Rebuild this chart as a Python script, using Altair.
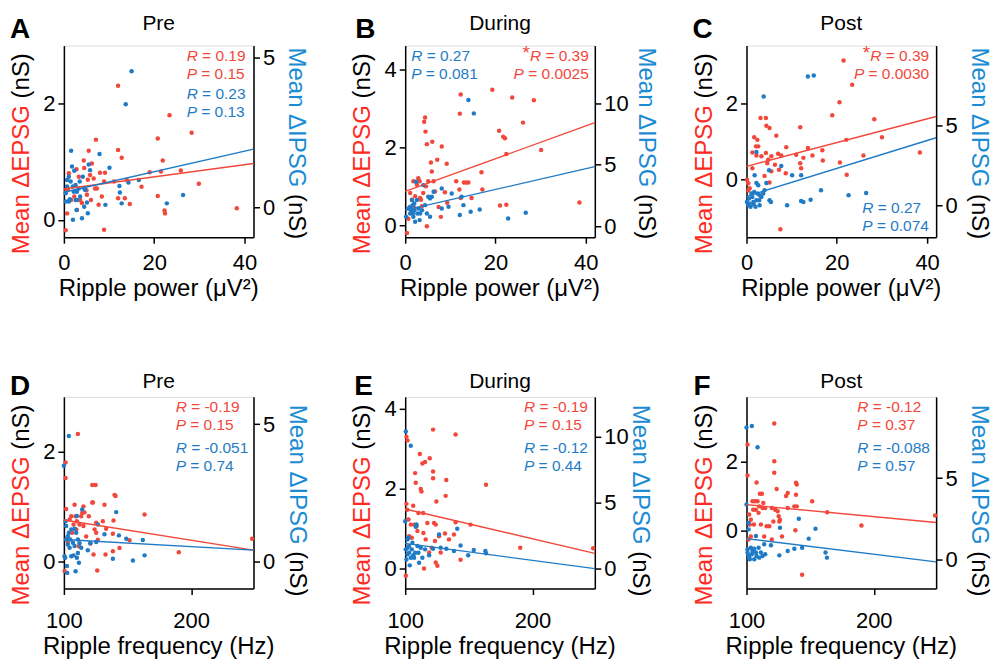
import altair as alt
import pandas as pd

FONT = "Liberation Sans"
RED = "#f2483c"
BLUE = "#1f7bc6"
RED_TITLE = "#ff2a22"
BLUE_TITLE = "#1b8bd3"
INK = "#000000"

LETTERS = ["A", "B", "C", "D", "E", "F"]
TITLES = ["Pre", "During", "Post", "Pre", "During", "Post"]
X_TITLES = ["Ripple power (μV²)"] * 3 + ["Ripple frequency (Hz)"] * 3
X_TICKS = [[0, 20, 40], [100, 200]]
X_DOMAINS = [[0, 42], [100, 249]]
FIT_X = [[0, 42], [100, 249]]

Y_LEFT_DOMAINS = [[-0.3, 3.0], [-0.3, 4.6], [-1.5, 3.5], [-0.5, 3.0], [-0.5, 4.3], [-1.7, 3.9]]
Y_RIGHT_DOMAINS = [[-1.0, 5.4], [-0.9, 14.7], [-2.0, 10.0], [-1.0, 6.0], [-1.5, 13.0], [-1.8, 10.0]]
Y_LEFT_TICKS = [[0, 2], [0, 2, 4], [0, 2], [0, 2], [0, 2, 4], [0, 2]]
Y_RIGHT_TICKS = [[0, 5], [0, 5, 10], [0, 5], [0, 5], [0, 5, 10], [0, 5]]

RED_FIT = [[0.53, 0.97], [0.87, 2.63], [0.35, 1.65], [0.75, 0.20], [1.49, 0.38], [0.75, 0.23]]
BLUE_FIT = [[0.50, 1.94], [1.30, 4.84], [0.56, 4.23], [0.79, 0.40], [1.91, 0.00], [1.27, -0.16]]

R_RED = ["0.19", "0.39", "0.39", "-0.19", "-0.19", "-0.12"]
P_RED = ["0.15", "0.0025", "0.0030", "0.15", "0.15", "0.37"]
R_BLUE = ["0.23", "0.27", "0.27", "-0.051", "-0.12", "-0.088"]
P_BLUE = ["0.13", "0.081", "0.074", "0.74", "0.44", "0.57"]
STAR_RED = [False, True, True, False, False, False]

# (x, mean dEPSG) red ; (x, mean dIPSG) blue
A_RED = [(0.4,-0.18),(0.7,0.11),(0.6,0.50),(1.6,0.34),(2.8,0.87),(3.3,0.74),(4.0,0.29),(4.4,1.02),(4.5,0.89),(5.0,0.51),
         (5.3,0.69),(5.5,1.19),(5.8,0.77),(6.2,0.97),(6.6,0.71),(7.1,1.38),(7.3,0.54),(8.0,0.81),(8.4,0.40),(8.9,0.66),
         (8.9,-0.17),(9.1,0.81),(7.7,0.26),(11.1,0.66),(12.0,2.31),(12.0,1.20),(12.8,1.07),(12.0,0.37),(13.5,0.37),(14.6,0.27),
         (17.2,0.57),(19.0,0.82),(20.8,1.40),(21.9,1.02),(21.5,0.83),(20.8,0.41),(22.3,0.16),(22.4,0.11),(23.4,1.80),(25.9,0.85),
         (28.3,1.50),(29.9,0.62),(38.3,0.20),(5.1,0.43),(6.0,0.34),(6.9,0.54),(0.9,0.53),(2.3,0.40),(3.6,0.34),(2.9,0.17),
         (13.9,0.69),(1.1,0.80)]
A_BLUE = [(0.4,0.19),(0.7,0.91),(1.1,1.02),(1.6,1.89),(1.5,0.86),(1.8,1.36),(2.0,0.69),(2.0,-0.42),(2.3,1.22),(2.6,0.74),
          (2.6,0.24),(2.8,-0.09),(2.9,0.24),(3.3,0.63),(3.6,0.36),(4.0,-0.37),(4.2,1.02),(4.5,0.02),(4.7,0.58),(5.1,0.16),
          (5.3,-0.20),(5.5,1.43),(5.8,1.24),(7.9,1.78),(9.2,0.08),(10.1,1.32),(12.3,0.71),(12.4,0.49),(12.8,0.13),(13.7,3.44),
          (14.3,0.83),(15.0,4.54),(16.6,0.91),(22.8,0.13),(26.4,0.41),(1.1,0.19),(0.7,0.69),(2.2,0.52),(1.3,0.27),(3.5,0.86),
          (0.4,0.47),(2.9,0.52),(4.5,0.63)]
B_RED = [(0.4,-0.19),(0.7,0.17),(1.1,0.83),(1.5,0.66),(1.8,1.13),(2.0,0.45),(2.2,0.75),(2.6,1.04),(2.9,1.21),(3.2,1.13),
         (3.5,0.66),(3.7,0.49),(4.0,0.83),(4.2,2.65),(4.4,2.76),(4.5,2.40),(4.8,2.08),(4.8,-0.02),(4.6,1.00),(5.1,1.13),
         (5.7,1.61),(5.9,1.38),(6.0,2.14),(6.3,1.13),(6.6,0.87),(7.1,1.68),(7.4,0.47),(7.9,0.22),(8.1,2.02),(8.8,0.85),
         (9.2,1.58),(9.3,0.58),(11.3,1.13),(12.1,2.86),(12.3,3.35),(12.0,0.92),(12.3,0.70),(13.0,1.10),(13.5,1.10),(14.0,1.10),
         (14.7,0.70),(16.9,1.36),(17.1,0.92),(19.3,3.47),(20.8,2.42),(21.0,0.51),(21.7,2.27),(22.1,2.23),(22.4,1.83),(22.4,0.53),
         (23.7,3.27),(26.1,2.63),(28.5,3.20),(30.1,1.93),(38.6,0.59),(3.3,0.70)]
B_BLUE = [(0.2,0.76),(0.7,1.44),(1.1,1.58),(1.5,1.17),(1.7,1.71),(2.0,1.30),(2.2,0.35),(2.4,3.61),(2.6,2.12),(2.7,1.03),
          (2.9,1.44),(3.2,0.49),(3.7,1.30),(4.0,3.34),(4.4,1.71),(4.8,1.03),(5.1,2.39),(5.5,2.26),(5.9,2.39),(6.3,2.80),
          (5.5,0.76),(8.1,3.07),(8.1,1.44),(10.3,2.66),(9.6,1.58),(12.1,0.90),(12.5,2.39),(12.9,1.71),(14.0,10.27),(15.2,9.18),
          (14.5,1.17),(16.5,1.36),(22.8,0.63),(26.7,1.09),(1.5,2.12),(1.1,1.03),(1.8,0.76),(1.3,1.30),(2.0,1.85),(3.3,1.03),
          (1.7,1.03)]
C_RED = [(0.1,0.00),(0.4,-0.09),(0.4,-0.28),(0.7,-0.22),(1.3,0.30),(1.3,0.71),(1.7,1.11),(2.1,0.87),(2.2,0.63),(2.4,1.04),
         (2.6,0.87),(3.1,1.61),(3.3,0.61),(4.0,0.10),(4.3,0.70),(4.3,1.61),(4.4,1.41),(4.6,0.43),(4.8,0.52),(5.1,1.35),
         (5.1,-0.07),(5.5,0.22),(5.5,0.61),(6.3,0.39),(6.6,1.15),(7.0,0.68),(7.2,0.26),(7.5,-1.29),(7.7,0.63),(8.7,0.17),
         (8.8,0.85),(11.0,0.65),(11.9,1.37),(11.9,0.43),(12.1,0.30),(12.6,0.57),(13.6,0.83),(14.6,0.63),(16.8,0.77),(16.9,0.50),
         (19.0,1.68),(20.6,2.02),(20.7,0.45),(21.5,3.11),(22.1,1.04),(22.2,0.13),(23.4,2.48),(25.9,0.63),(28.3,1.58),(30.0,1.11),
         (38.4,0.71)]
C_BLUE = [(0.1,0.21),(0.4,0.00),(0.6,0.42),(0.9,-0.10),(1.1,0.73),(1.3,0.52),(1.5,0.21),(1.7,0.83),(1.8,1.88),(2.0,-0.10),
          (2.2,1.40),(2.2,3.33),(2.4,0.73),(2.6,1.25),(2.8,0.31),(2.9,0.00),(3.3,0.52),(3.7,0.73),(3.8,6.81),(4.0,0.94),
          (4.4,1.40),(5.0,2.19),(5.1,0.31),(5.4,0.21),(7.7,2.46),(9.0,0.00),(10.1,1.88),(12.1,1.88),(12.1,0.27),(12.6,0.21),
          (13.6,8.06),(14.9,8.13),(14.2,0.35),(16.5,0.94),(22.6,0.63),(26.5,0.77),(1.6,0.06),(2.2,0.31),(0.7,0.10),(2.9,0.63)]
D_RED = [(100.5,-0.18),(101.3,1.80),(101.3,1.52),(101.8,0.95),(102.4,0.41),(104.5,0.76),(105.8,0.82),(106.5,0.52),(107.6,0.67),(108.4,1.03),
         (109.2,0.82),(110.2,0.73),(111.0,2.32),(111.8,0.27),(112.3,0.67),(113.6,0.82),(114.4,0.88),(115.4,1.00),(116.2,0.89),(117.5,0.45),
         (119.6,0.82),(120.9,0.32),(122.3,1.39),(124.9,1.39),(122.8,1.07),(123.3,0.12),(124.1,0.58),(125.4,0.52),(126.2,-0.17),(126.7,0.39),
         (130.6,0.73),(131.9,1.03),(132.7,0.12),(133.2,0.59),(138.5,0.18),(139.0,0.74),(139.8,1.21),(140.6,1.19),(138.5,0.50),(143.7,0.24),
         (151.6,0.38),(163.4,0.85),(190.3,0.16),(247.9,0.41),(122.3,1.07),(125.4,0.70),(115.4,0.64),(103.1,0.33),(109.7,0.58)]
D_BLUE = [(100.0,3.48),(100.5,0.18),(101.0,0.12),(101.3,1.46),(101.8,1.28),(101.8,0.79),(102.4,-0.18),(102.6,-0.43),(103.1,0.61),(103.9,1.04),
          (103.9,4.57),(104.5,0.49),(105.0,0.79),(105.8,0.18),(107.1,0.67),(107.6,0.21),(108.4,1.18),(109.2,-0.37),(109.7,1.04),(110.2,1.65),
          (110.2,0.12),(111.0,0.30),(111.8,-0.06),(112.3,0.65),(113.6,0.49),(114.4,1.89),(118.8,0.40),(120.7,0.65),(125.4,0.70),(126.7,1.34),
          (131.9,0.98),(138.5,0.09),(141.1,1.79),(143.2,0.94),(149.0,0.82),(154.2,0.02),(162.0,0.77),(163.4,0.21),(103.1,0.91),(105.8,1.16),
          (108.4,0.55),(111.0,0.79)]
E_RED = [(100.5,-0.18),(101.0,3.30),(101.8,3.21),(101.0,1.62),(101.6,1.47),(102.6,1.23),(103.1,0.81),(104.4,1.10),(105.2,0.77),(106.3,1.57),
         (107.0,1.10),(107.8,2.39),(108.3,2.15),(108.9,1.06),(109.6,0.94),(110.4,1.39),(111.5,2.87),(112.2,1.99),(112.8,1.93),(113.5,2.63),
         (114.1,1.39),(114.3,0.89),(114.8,0.00),(115.6,2.67),(116.1,0.73),(117.4,1.14),(119.3,2.76),(120.8,0.52),(121.9,2.43),(121.9,2.26),
         (121.9,3.48),(122.7,1.14),(123.4,0.69),(124.0,0.15),(124.5,1.68),(125.3,0.07),(126.6,0.81),(127.9,0.40),(131.3,0.88),(131.8,1.82),
         (132.3,2.22),(134.4,0.73),(138.3,0.85),(139.6,3.36),(139.6,1.16),(143.5,0.22),(151.3,1.10),(163.5,2.10),(190.4,0.52),(247.7,0.51),
         (124.0,1.10),(118.8,0.40)]
E_BLUE = [(100.5,10.38),(104.4,9.30),(100.0,3.59),(100.5,1.46),(101.0,0.70),(101.8,2.21),(101.8,1.58),(102.6,2.34),(103.1,1.21),(103.6,0.25),
          (104.4,0.83),(105.2,1.46),(106.3,1.01),(107.0,0.83),(108.3,3.17),(108.9,3.34),(110.4,1.21),(110.9,0.45),(112.2,1.58),(113.5,0.83),
          (115.6,1.46),(118.8,1.01),(121.9,1.51),(126.6,2.59),(127.9,1.58),(132.3,1.51),(138.3,1.33),(140.9,3.02),(143.5,1.76),(149.5,1.01),
          (153.9,1.41),(163.0,1.33),(163.5,1.16),(103.1,1.71),(105.7,1.96),(107.8,1.21),(109.6,1.71),(101.8,1.08)]
F_RED = [(100.8,2.51),(100.8,1.60),(101.6,-0.27),(102.1,0.46),(102.6,0.17),(103.4,-0.18),(104.7,0.85),(105.3,0.60),(105.8,0.17),(106.8,0.85),
         (107.4,0.60),(107.9,1.40),(108.7,0.85),(109.5,0.51),(110.0,0.70),(110.5,1.07),(111.3,0.17),(112.1,1.07),(112.6,0.65),(113.2,0.80),
         (113.9,-0.18),(114.7,0.65),(115.8,0.12),(117.9,0.12),(119.9,0.65),(121.1,0.26),(121.8,3.12),(121.8,2.02),(121.8,1.68),(122.6,0.60),
         (123.7,1.21),(124.5,0.56),(125.3,0.41),(125.8,0.26),(126.3,0.31),(127.9,-0.18),(131.1,1.00),(132.4,1.09),(132.4,0.65),(137.6,0.70),
         (138.4,0.00),(138.9,1.39),(139.5,1.34),(138.9,1.04),(139.5,0.70),(143.7,-1.30),(151.6,0.85),(163.4,0.53),(190.3,0.14),(248.2,0.43),
         (103.4,0.31),(119.9,-0.27)]
F_BLUE = [(100.0,8.12),(104.2,8.20),(108.7,6.90),(100.0,3.37),(101.6,2.24),(101.6,1.84),(100.8,0.61),(100.8,0.41),(101.6,0.24),(102.1,0.10),
          (102.6,0.00),(104.2,0.31),(106.1,0.65),(106.1,0.00),(107.4,1.43),(107.9,0.20),(109.5,0.71),(110.0,0.10),(111.3,0.41),(112.6,0.20),
          (113.9,0.92),(114.7,0.31),(119.2,0.86),(125.8,0.24),(126.3,1.94),(132.4,0.51),(137.6,0.65),(141.1,2.49),(143.7,0.71),(148.9,1.27),
          (154.2,1.88),(162.1,0.41),(163.2,0.10),(104.7,0.51),(107.4,0.41),(103.4,0.71)]

RED_POINTS = [A_RED, B_RED, C_RED, D_RED, E_RED, F_RED]
BLUE_POINTS = [A_BLUE, B_BLUE, C_BLUE, D_BLUE, E_BLUE, F_BLUE]

# ---------------- layout / style ----------------
PW, PH = 190, 192
ANN_FS = 15.5
# (red_align, red_x, red_y, blue_align, blue_x, blue_y)
ANN_LAYOUT = [
    ("left", 123, 15, "left", 123, 54),
    ("right", 184, 15, "left", 6, 15),
    ("right", 183, 15, "left", 116, 168),
    ("left", 112, 15, "left", 112, 56),
    ("left", 119, 15, "left", 119, 56),
    ("left", 111, 15, "left", 111, 56),
]
LETTER_X = [-54, -50, -54, -54, -51, -53]
LETTER_Y = [-8, -2]
TITLE_Y = [-16, -9]
RTITLE_X = [36, 44, 36, 37, 38, 36]
RTITLE_Y = [2, 8]
XLABPAD = [9, 16]
XTITLE_Y = [PH + 59, PH + 66]

EM = {'M': 0.833, 'e': 0.556, 'a': 0.556, 'n': 0.556, ' ': 0.278, 'Δ': 0.668, 'E': 0.667,
      'P': 0.667, 'S': 0.667, 'G': 0.778, 'I': 0.278, '(': 0.333, ')': 0.333, 'R': 0.722,
      '=': 0.584, '-': 0.333, '.': 0.278, '*': 0.389}


def tw(s, fs):
    return sum(EM.get(c, 0.556) for c in s) * fs


DUMMY = pd.DataFrame({"d": [0]})


def T(s, x, y, fs, color=INK, angle=None, align="left", weight="normal", style="normal"):
    kw = dict(text=s, x=x, y=y, fontSize=fs, font=FONT, color=color, align=align,
              baseline="alphabetic", fontWeight=weight, fontStyle=style)
    if angle is not None:
        kw["angle"] = angle
    return alt.Chart(DUMMY).mark_text(**kw)


def stat_line(letter, value, color, align, x, y, star=False):
    rest = "= " + value
    out = []
    if align == "left":
        out.append(T(letter, x, y, ANN_FS, color, style="italic"))
        out.append(T(rest, x + tw(letter + " ", ANN_FS), y, ANN_FS, color))
    else:
        out.append(T(rest, x, y, ANN_FS, color, align="right"))
        lx = x - tw(" " + rest, ANN_FS)
        out.append(T(letter, lx, y, ANN_FS, color, align="right", style="italic"))
        if star:
            out.append(T("*", lx - tw(letter, ANN_FS), y - 2, 19, color, align="right"))
    return out


AX = dict(labelFont=FONT, labelFontSize=22, labelColor=INK, tickSize=6, tickColor=INK,
          tickWidth=1.5, domainColor=INK, domainWidth=1.5, labelFlush=False,
          labelOverlap=False, grid=False, title=None)


def panel(i):
    row, col = divmod(i, 3)
    xscale = alt.Scale(domain=X_DOMAINS[row], nice=False, zero=False)
    xaxis = alt.Axis(values=X_TICKS[row], labelPadding=XLABPAD[row], **AX)
    X = alt.X("x:Q", scale=xscale, axis=xaxis)
    lscale = alt.Scale(domain=Y_LEFT_DOMAINS[i], nice=False, zero=False)
    rscale = alt.Scale(domain=Y_RIGHT_DOMAINS[i], nice=False, zero=False)
    laxis = alt.Axis(orient="left", values=Y_LEFT_TICKS[i], labelPadding=3, **AX)
    raxis = alt.Axis(orient="right", values=Y_RIGHT_TICKS[i], labelPadding=3, **AX)

    red_df = pd.DataFrame(RED_POINTS[i], columns=["x", "y"])
    blue_df = pd.DataFrame(BLUE_POINTS[i], columns=["x", "y"])
    rfit = pd.DataFrame({"x": FIT_X[row], "y": RED_FIT[i]})
    bfit = pd.DataFrame({"x": FIT_X[row], "y": BLUE_FIT[i]})

    layers = [
        alt.Chart(red_df).mark_circle(size=20, color=RED, opacity=1).encode(
            x=X, y=alt.Y("y:Q", scale=lscale, axis=laxis)),
        alt.Chart(blue_df).mark_circle(size=20, color=BLUE, opacity=1).encode(
            x=X, y=alt.Y("y:Q", scale=rscale, axis=raxis)),
        alt.Chart(rfit).mark_line(color=RED, strokeWidth=1.4).encode(
            x=X, y=alt.Y("y:Q", scale=lscale, axis=None)),
        alt.Chart(bfit).mark_line(color=BLUE, strokeWidth=1.4).encode(
            x=X, y=alt.Y("y:Q", scale=rscale, axis=None)),
    ]

    texts = []
    texts.append(T(LETTERS[i], LETTER_X[i], LETTER_Y[row], 28, weight="bold"))
    texts.append(T(TITLES[i], PW / 2, TITLE_Y[row], 21, align="center"))
    texts.append(T(X_TITLES[i], PW / 2, XTITLE_Y[row], 24, align="center"))
    # left y title (reads upward)
    ly = PH + 17
    texts.append(T("Mean ΔEPSG", -35, ly, 24, RED_TITLE, angle=270))
    texts.append(T("(nS)", -35, ly - tw("Mean ΔEPSG ", 24), 24, INK, angle=270))
    # right y title (reads downward)
    ry = RTITLE_Y[row]
    rx = PW + RTITLE_X[i]
    texts.append(T("Mean ΔIPSG", rx, ry, 24, BLUE_TITLE, angle=90))
    texts.append(T("(nS)", rx, ry + tw("Mean ΔIPSG ", 24), 24, INK, angle=90))
    # statistics
    ra, rxp, ryp, ba, bxp, byp = ANN_LAYOUT[i]
    texts += stat_line("R", R_RED[i], RED, ra, rxp, ryp, STAR_RED[i])
    texts += stat_line("P", P_RED[i], RED, ra, rxp, ryp + 18)
    texts += stat_line("R", R_BLUE[i], BLUE, ba, bxp, byp)
    texts += stat_line("P", P_BLUE[i], BLUE, ba, bxp, byp + 18)

    return alt.layer(*layers, *texts).resolve_scale(y="independent").properties(width=PW, height=PH)


chart = alt.concat(
    *[panel(i) for i in range(6)],
    columns=3,
    spacing=alt.RowColnumber(row=160, column=152),
    bounds="flush",
).properties(
    padding={"left": 1, "top": 3, "right": 3, "bottom": 0}
).configure_view(stroke=None).configure(font=FONT)

chart.save("out.html", embed_options={"renderer": "svg", "actions": False})
